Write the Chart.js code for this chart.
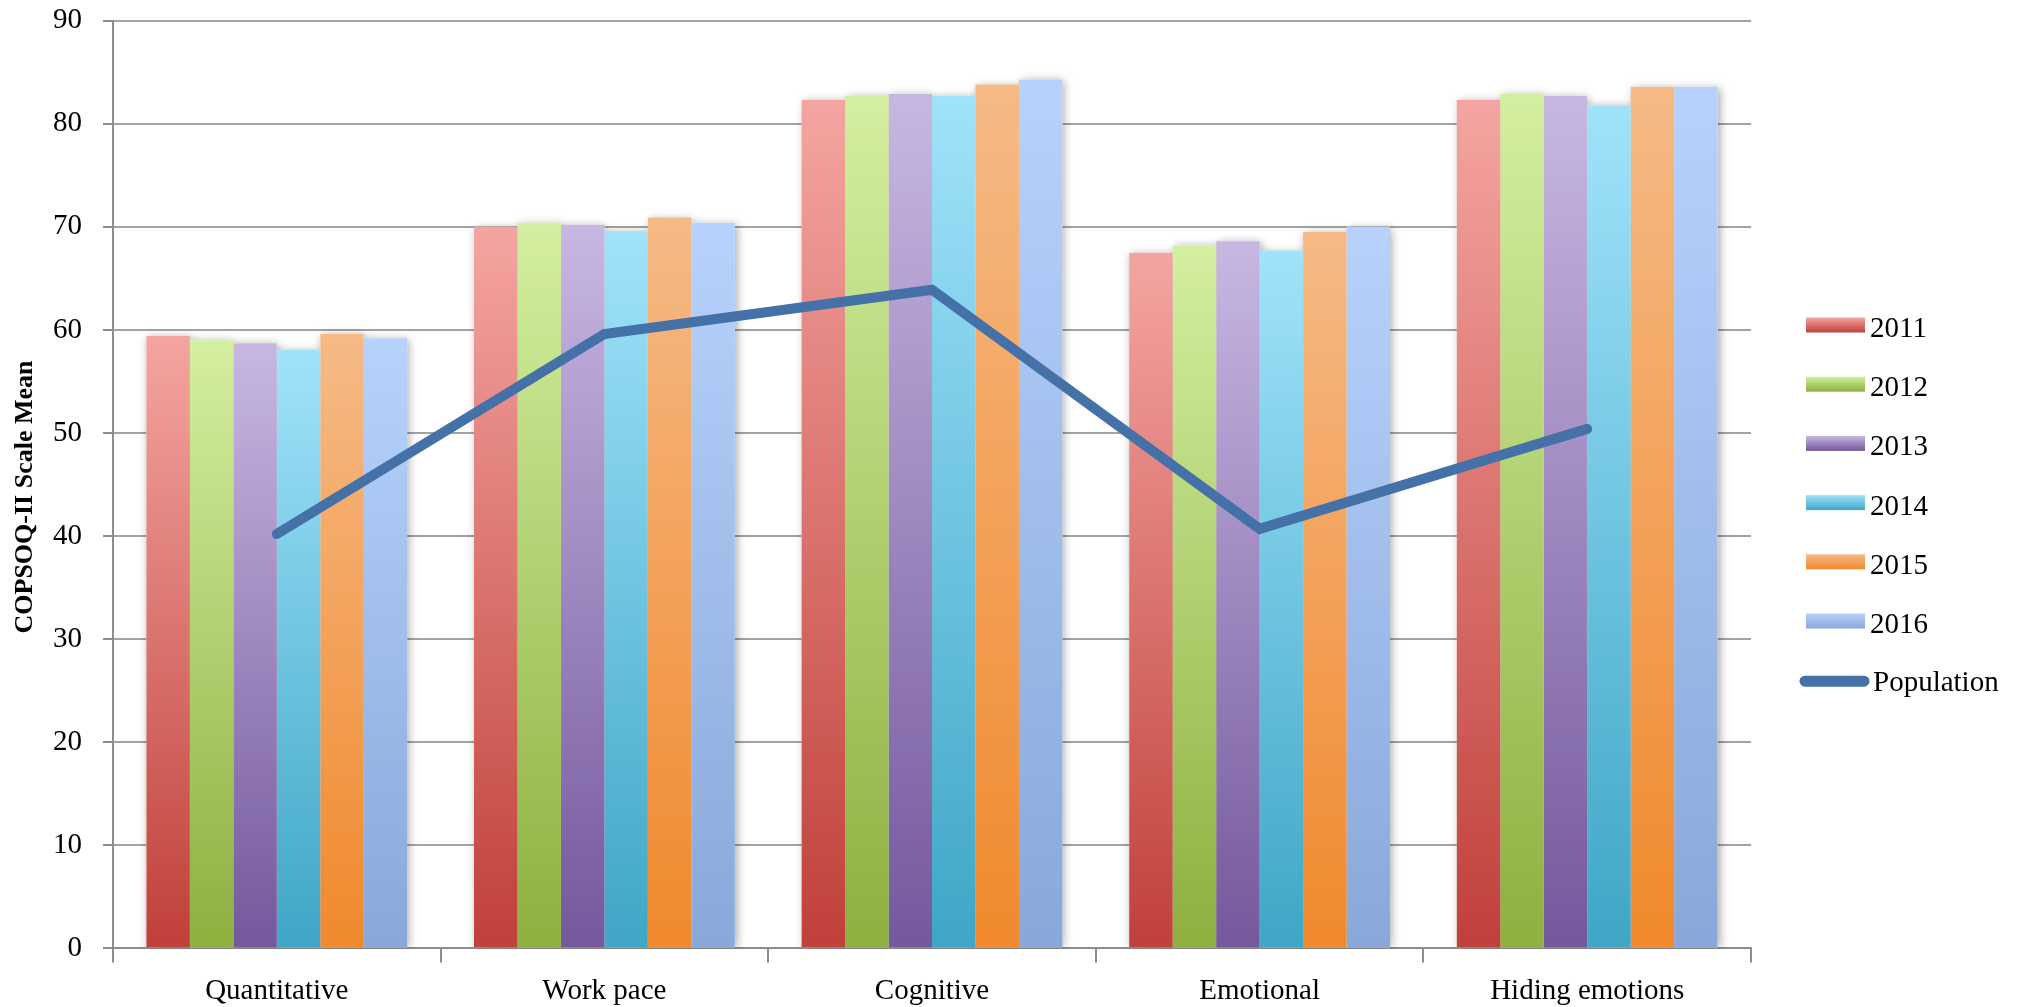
<!DOCTYPE html>
<html>
<head>
<meta charset="utf-8">
<script src="https://cdn.jsdelivr.net/npm/chart.js@4"></script>
<style>
  html, body { margin: 0; padding: 0; background: #fff; }
  #wrap { width: 2030px; height: 1007px; position: relative; }
</style>
</head>
<body>
<div id="wrap"><canvas id="chart"></canvas></div>
<script>
const categories = ["Quantitative", "Work pace", "Cognitive", "Emotional", "Hiding emotions"];
const years = ["2011", "2012", "2013", "2014", "2015", "2016"];
const values2011 = [59.4, 70.0, 82.3, 67.5, 82.3];
const values2012 = [59.0, 70.4, 82.7, 68.2, 82.9];
const values2013 = [58.7, 70.2, 82.9, 68.6, 82.7];
const values2014 = [58.1, 69.6, 82.7, 67.7, 81.8];
const values2015 = [59.6, 70.9, 83.8, 69.5, 83.6];
const values2016 = [59.2, 70.4, 84.3, 70.0, 83.6];
const populationValues = [40.2, 59.6, 63.9, 40.7, 50.4];
const populationLabel = "Population";
const axisTitle = "COPSOQ-II Scale Mean";

// light (top) and dark (bottom) ends of each year's fill
const YEAR_COLORS = [
  { top: "#f4a5a1", bottom: "#c0403a" },
  { top: "#d3efa0", bottom: "#8db040" },
  { top: "#c8b7e2", bottom: "#74589c" },
  { top: "#a0e3fa", bottom: "#3fa6c6" },
  { top: "#f6ba86", bottom: "#f0892d" },
  { top: "#b7d2fc", bottom: "#89a8d9" },
];
const LINE_COLOR = "#4471a7";
const SERIF = '"Liberation Serif", "DejaVu Serif", serif';

const yearValues = [values2011, values2012, values2013, values2014, values2015, values2016];

function barGradient(colors) {
  return (context) => {
    const chart = context.chart;
    const y = chart.scales.y;
    if (!chart.chartArea || !y || context.type !== "data") return colors.top;
    const top = y.getPixelForValue(context.raw);
    const base = y.getPixelForValue(0);
    const g = chart.ctx.createLinearGradient(0, base, 0, top);
    g.addColorStop(0, colors.bottom);
    g.addColorStop(1, colors.top);
    return g;
  };
}

// soft drop shadow behind every bar, painted before the bars themselves
const barShadow = {
  id: "barShadow",
  beforeDatasetsDraw(chart) {
    const { ctx, chartArea } = chart;
    ctx.save();
    ctx.beginPath();
    ctx.rect(chartArea.left, chartArea.top - 20, chartArea.width, chartArea.height + 20);
    ctx.clip();
    ctx.shadowColor = "rgba(0,0,0,0.35)";
    ctx.shadowBlur = 9;
    ctx.shadowOffsetX = 2;
    ctx.shadowOffsetY = 1;
    ctx.fillStyle = "#fff";
    chart.data.datasets.forEach((ds, i) => {
      if (ds.type === "line") return;
      chart.getDatasetMeta(i).data.forEach((bar) => {
        const { x, y, base, width } = bar.getProps(["x", "y", "base", "width"], true);
        ctx.fillRect(x - width / 2, y, width, base - y);
      });
    });
    ctx.restore();
  },
};

// right-hand legend and rotated value-axis title
const sideLegend = {
  id: "sideLegend",
  afterDraw(chart) {
    const { ctx } = chart;

    ctx.save();
    ctx.translate(25, 497);
    ctx.rotate(-Math.PI / 2);
    ctx.font = "bold 26px " + SERIF;
    ctx.fillStyle = "#000";
    ctx.textAlign = "center";
    ctx.textBaseline = "middle";
    ctx.fillText(axisTitle, 0, 0);
    ctx.restore();

    const boxX = 1806, boxW = 59, boxH = 15;
    const textX = 1870;
    const firstRow = 325, rowStep = 59.2;
    ctx.save();
    ctx.font = "29px " + SERIF;
    ctx.textAlign = "left";
    ctx.textBaseline = "alphabetic";
    years.forEach((label, i) => {
      const cy = firstRow + i * rowStep;
      const c = YEAR_COLORS[i];
      const g = ctx.createLinearGradient(0, cy + boxH / 2, 0, cy - boxH / 2);
      g.addColorStop(0, c.bottom);
      g.addColorStop(1, c.top);
      ctx.fillStyle = g;
      ctx.fillRect(boxX, cy - boxH / 2, boxW, boxH);
      ctx.fillStyle = "#000";
      ctx.fillText(label, textX, cy + 12);
    });
    const ly = firstRow + years.length * rowStep + 1;
    ctx.strokeStyle = LINE_COLOR;
    ctx.lineWidth = 11;
    ctx.lineCap = "round";
    ctx.beginPath();
    ctx.moveTo(1805, ly);
    ctx.lineTo(1864, ly);
    ctx.stroke();
    ctx.fillStyle = "#000";
    ctx.fillText(populationLabel, 1873, ly + 10);
    ctx.restore();
  },
};

const datasets = years.map((year, i) => ({
  type: "bar",
  label: year,
  data: yearValues[i],
  backgroundColor: barGradient(YEAR_COLORS[i]),
  borderWidth: 0,
  categoryPercentage: 0.796,
  barPercentage: 1.0,
}));

datasets.push({
  type: "line",
  label: populationLabel,
  data: populationValues,
  borderColor: LINE_COLOR,
  backgroundColor: LINE_COLOR,
  borderWidth: 10,
  borderCapStyle: "round",
  borderJoinStyle: "miter",
  pointRadius: 0,
  pointHoverRadius: 0,
  fill: false,
  tension: 0,
  order: -1,
});

const gridGray = "#a3a3a3";
const axisGray = "#8c8c8c";

new Chart(document.getElementById("chart").getContext("2d"), {
  data: { labels: categories, datasets },
  options: {
    responsive: true,
    maintainAspectRatio: false,
    animation: false,
    layout: { padding: { top: 20.7, right: 279, bottom: 0, left: 0 } },
    plugins: {
      legend: { display: false },
      tooltip: { enabled: false },
    },
    scales: {
      x: {
        offset: true,
        afterFit: (scale) => { scale.height = 58.6; },
        ticks: {
          color: "#000",
          font: { family: SERIF, size: 29 },
          padding: 12,
          maxRotation: 0,
        },
        grid: {
          offset: true,
          drawOnChartArea: false,
          drawTicks: true,
          tickLength: 14,
          color: axisGray,
          lineWidth: 2,
        },
        border: { display: true, color: axisGray, width: 2 },
      },
      y: {
        min: 0,
        max: 90,
        afterFit: (scale) => {
          scale.width = 113;
          scale.paddingTop = 0;
          scale.paddingBottom = 0;
        },
        ticks: {
          stepSize: 10,
          color: "#000",
          font: { family: SERIF, size: 29 },
          padding: 21,
        },
        grid: {
          color: gridGray,
          lineWidth: 2,
          drawTicks: true,
          tickLength: 10,
          tickColor: axisGray,
        },
        border: { display: true, color: axisGray, width: 2 },
      },
    },
  },
  plugins: [barShadow, sideLegend],
});
</script>
</body>
</html>
